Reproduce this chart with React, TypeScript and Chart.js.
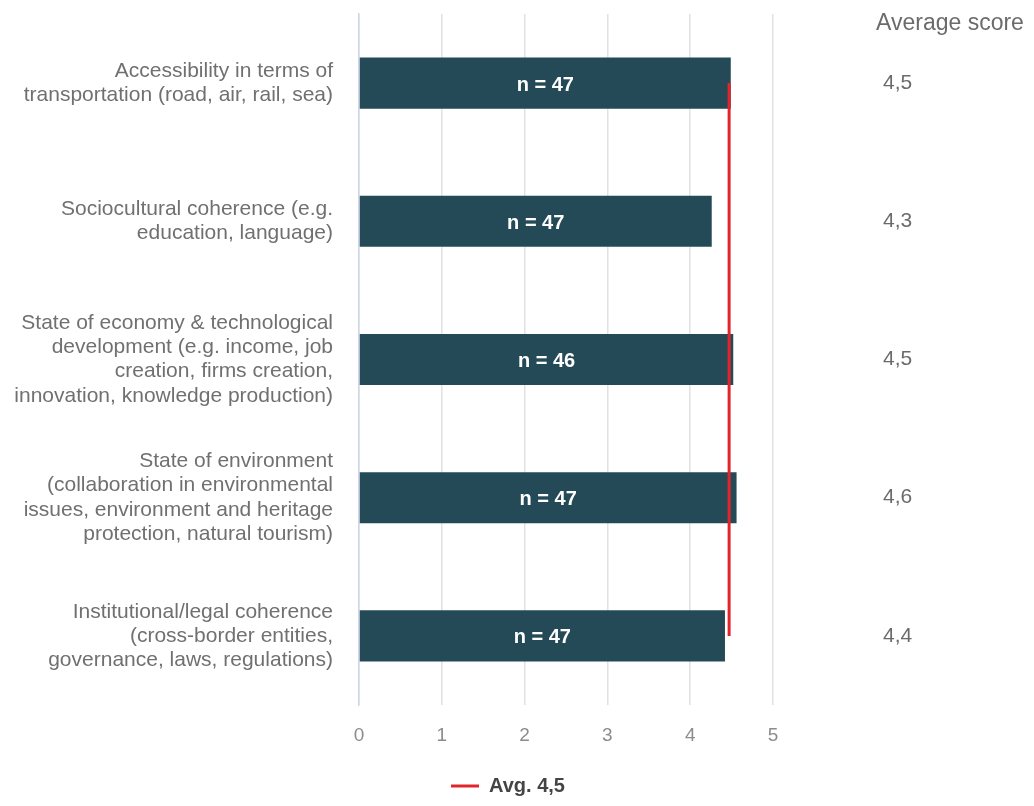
import { useEffect, useRef } from "react";
import { Chart, registerables } from "chart.js";

Chart.register(...registerables);

// Cross-border factors, one multi-line label per bar
const categories: string[][] = [
  ["Accessibility in terms of", "transportation (road, air, rail, sea)"],
  ["Sociocultural coherence (e.g.", "education, language)"],
  [
    "State of economy & technological",
    "development (e.g. income, job",
    "creation, firms creation,",
    "innovation, knowledge production)",
  ],
  [
    "State of environment",
    "(collaboration in environmental",
    "issues, environment and heritage",
    "protection, natural tourism)",
  ],
  [
    "Institutional/legal coherence",
    "(cross-border entities,",
    "governance, laws, regulations)",
  ],
];

// Average score per factor and number of answers behind it
const scores: number[] = [4.49, 4.26, 4.52, 4.56, 4.42];
const respondents: number[] = [47, 47, 46, 47, 47];

// Overall average, drawn as a vertical reference line
const overallAverage = 4.47;
const avgLine: number[] = [4.47, 4.47, 4.47, 4.47, 4.47];

const xMin = 0;
const xMax = 5;
const xStep = 1;

const sideTitle = "Average score";

const FONT = "'Liberation Sans', Arial, Helvetica, sans-serif";
const BAR_COLOR = "#244a58";
const AVG_COLOR = "#e2252b";

const fmt = (v: number) => v.toFixed(1).replace(".", ",");

// Writes "n = …" in the middle of each bar
const barLabels = {
  id: "barLabels",
  afterDatasetsDraw(chart: any) {
    const meta = chart.getDatasetMeta(0);
    const ctx = chart.ctx;
    ctx.save();
    ctx.font = `bold 20px ${FONT}`;
    ctx.fillStyle = "#ffffff";
    ctx.textAlign = "center";
    ctx.textBaseline = "middle";
    meta.data.forEach((el: any, i: number) => {
      const { x, y, base } = el.getProps(["x", "y", "base"], true);
      ctx.fillText(`n = ${respondents[i]}`, (x + base) / 2, y + 2);
    });
    ctx.restore();
  },
};

// Heading above the right-hand score column
const sideHeading = {
  id: "sideHeading",
  afterDraw(chart: any) {
    const ctx = chart.ctx;
    const scale = chart.scales.yr;
    ctx.save();
    ctx.font = `23px ${FONT}`;
    ctx.fillStyle = "#6b6b6b";
    ctx.textAlign = "left";
    ctx.textBaseline = "middle";
    ctx.fillText(sideTitle, scale.left + 103, 24);
    ctx.restore();
  },
};

// Vertical category axes: keep the plot area at its own edges
const noEdgePadding = (scale: any) => {
  scale.paddingTop = 0;
  scale.paddingBottom = 0;
};

export default function App() {
  const ref = useRef<HTMLCanvasElement>(null);

  useEffect(() => {
    const labels = categories;
    const chart = new Chart(ref.current as HTMLCanvasElement, {
      type: "bar",
      data: {
        labels,
        datasets: [
          {
            type: "bar",
            label: sideTitle,
            data: scores,
            backgroundColor: BAR_COLOR,
            borderWidth: 0,
            barPercentage: 0.37,
            categoryPercentage: 1,
            order: 1,
            xAxisID: "x",
            yAxisID: "y",
          } as any,
          {
            type: "line",
            label: `Avg. ${fmt(overallAverage)}`,
            data: avgLine,
            indexAxis: "y",
            borderColor: AVG_COLOR,
            backgroundColor: AVG_COLOR,
            borderWidth: 3,
            pointRadius: 0,
            fill: false,
            tension: 0,
            order: 0,
            xAxisID: "x",
            yAxisID: "y",
          } as any,
        ],
      },
      options: {
        indexAxis: "y",
        animation: false,
        responsive: true,
        maintainAspectRatio: false,
        events: [],
        layout: { padding: { top: 14, right: 18, bottom: 0, left: 0 } },
        scales: {
          x: {
            type: "linear",
            min: xMin,
            max: xMax,
            ticks: {
              stepSize: xStep,
              color: "#8c8c8c",
              font: { family: FONT, size: 19 },
              padding: 19,
            },
            grid: { color: "#e2e2e2", lineWidth: 1.5, drawTicks: false },
            border: { display: false },
            afterFit(scale: any) {
              scale.height = 61;
            },
          },
          y: {
            type: "category",
            position: "left",
            offset: true,
            grid: { display: false, drawTicks: false },
            border: { display: true, color: "#cdd6ea", width: 1.5 },
            ticks: {
              color: "#707070",
              font: { family: FONT, size: 21, lineHeight: 1.15 },
              padding: 26,
            },
            afterFit(scale: any) {
              scale.width = 359;
              noEdgePadding(scale);
            },
          },
          yr: {
            type: "category",
            position: "right",
            offset: true,
            grid: { display: false, drawTicks: false },
            border: { display: false },
            ticks: {
              color: "#6b6b6b",
              font: { family: FONT, size: 21 },
              padding: 110,
              callback: (_v: any, i: number) => fmt(scores[i]),
            },
            afterFit(scale: any) {
              scale.width = 243;
              noEdgePadding(scale);
            },
          },
        },
        plugins: {
          tooltip: { enabled: false },
          legend: {
            display: true,
            position: "bottom",
            labels: {
              color: "#444444",
              font: { family: FONT, size: 20, weight: "bold" },
              boxWidth: 28,
              boxHeight: 3,
              padding: 10,
              generateLabels: () => [
                {
                  text: `Avg. ${fmt(overallAverage)}`,
                  fillStyle: AVG_COLOR,
                  strokeStyle: AVG_COLOR,
                  fontColor: "#444444",
                  lineWidth: 0,
                  hidden: false,
                  datasetIndex: 1,
                },
              ],
            },
          },
        },
      },
      plugins: [barLabels, sideHeading],
    });
    return () => chart.destroy();
  }, []);

  return (
    <div
      style={{
        position: "fixed",
        left: 0,
        top: 0,
        width: 1034,
        height: 806,
        background: "#ffffff",
      }}
    >
      <canvas ref={ref} />
    </div>
  );
}
